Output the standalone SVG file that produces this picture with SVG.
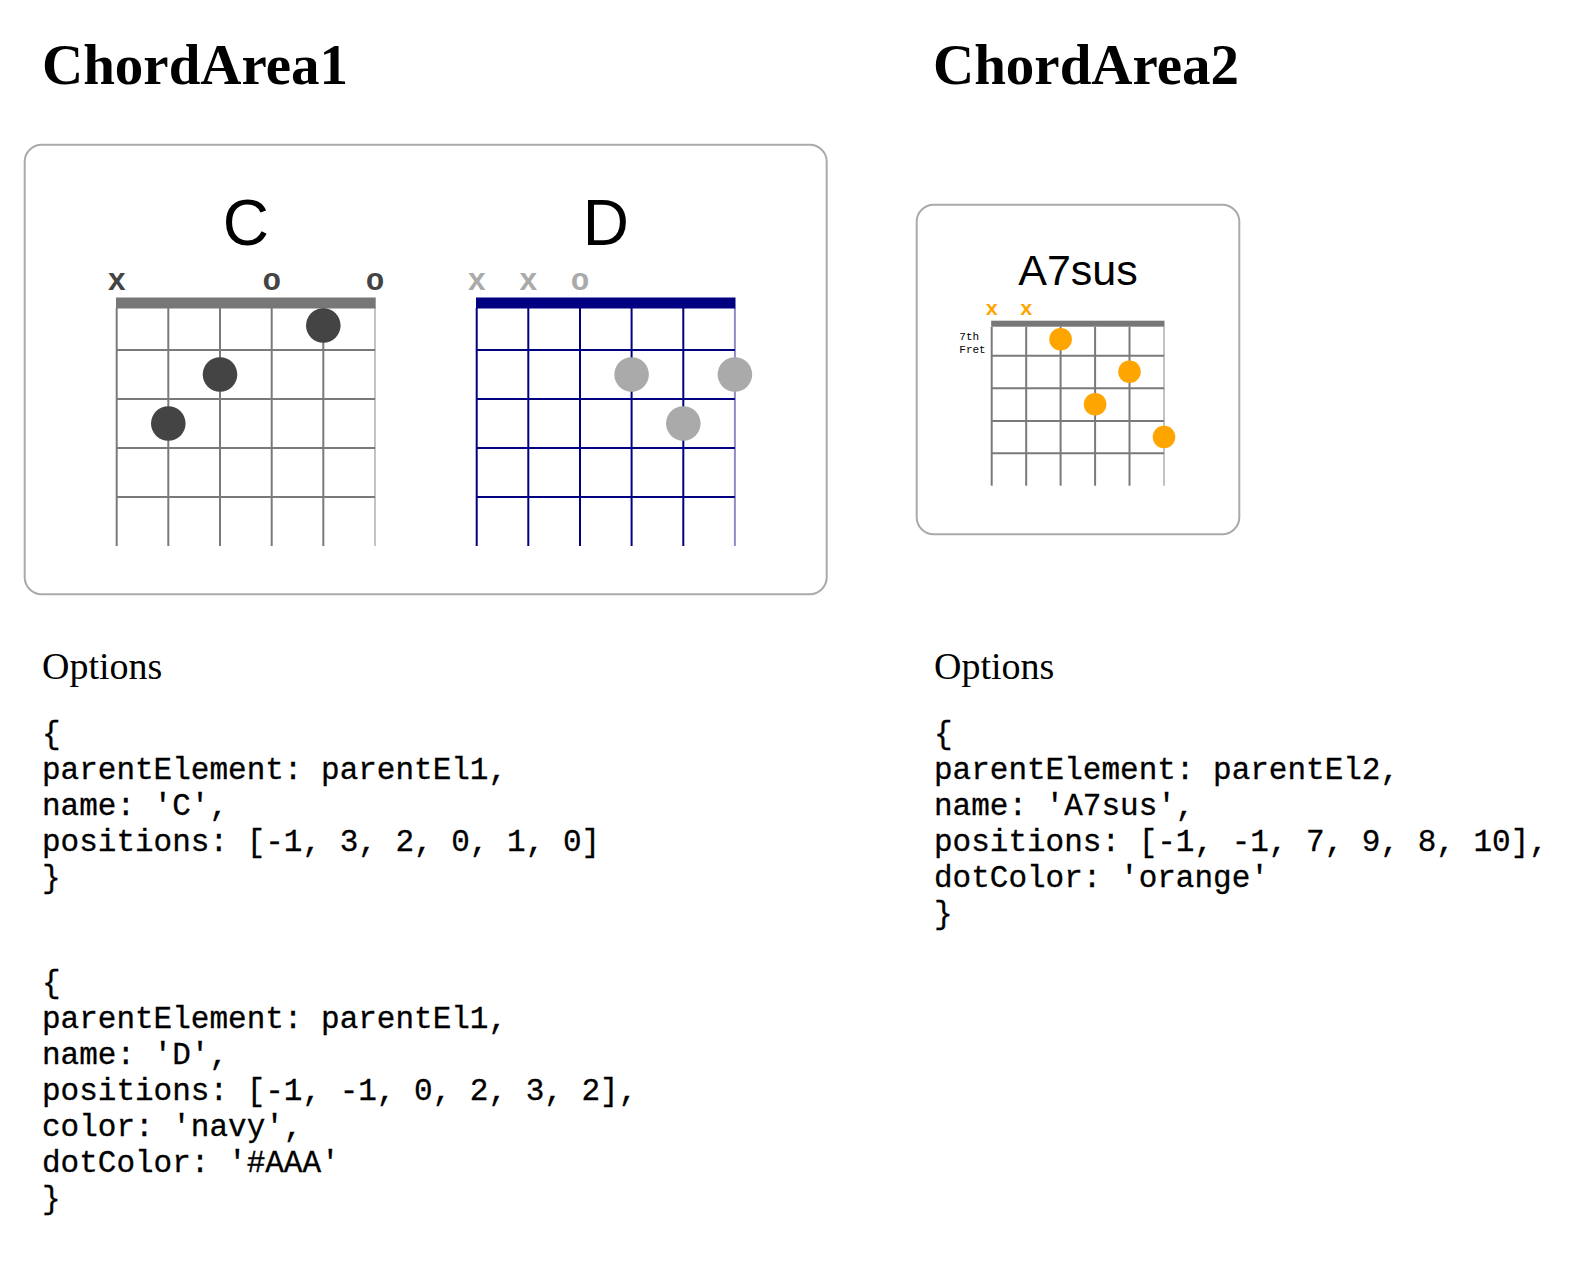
<svg xmlns="http://www.w3.org/2000/svg" width="1596" height="1266" viewBox="0 0 1596 1266">
<style>
.h1{font-family:"Liberation Serif",serif;font-weight:bold;font-size:57px;fill:#000}
.opt{font-family:"Liberation Serif",serif;font-size:38px;fill:#000}
.code{font-family:"Liberation Mono",monospace;font-size:31px;fill:#000;stroke:#000;stroke-width:0.3}
.panel{fill:#fff;stroke:#aaa;stroke-width:2}
.title{font-family:"Liberation Sans",Arial,sans-serif;fill:#000;text-anchor:middle}
.mark{font-family:"Liberation Mono",monospace;font-weight:bold;text-anchor:middle}
.gc line{stroke:#7a7a7a;stroke-width:2}
.gd line{stroke:#000080;stroke-width:2}
.ga line{stroke:#7a7a7a;stroke-width:2}
.last{stroke-opacity:0.45}
</style>
<rect width="1596" height="1266" fill="#fff"/>
<g id="heading1"><text class="h1" x="42" y="84">ChordArea1</text></g>
<g id="heading2"><text class="h1" x="933" y="84">ChordArea2</text></g>

<g id="panel1"><rect class="panel" x="24.7" y="144.7" width="802" height="449.6" rx="17"/></g>
<g id="panel2"><rect class="panel" x="916.7" y="204.7" width="322.6" height="329.6" rx="17"/></g>

<g id="chordC">
<text class="title" x="245.8" y="245" font-size="64">C</text>
<g class="mark" fill="#444" font-size="31">
<text x="116.7" y="290">x</text><text x="271.7" y="290">o</text><text x="375" y="290">o</text>
</g>
<rect x="116" y="297.5" width="259.7" height="11" fill="#777"/>
<g class="gc">
<line x1="116.7" y1="350" x2="375" y2="350"/><line x1="116.7" y1="399" x2="375" y2="399"/><line x1="116.7" y1="448" x2="375" y2="448"/><line x1="116.7" y1="497" x2="375" y2="497"/>
<line x1="116.7" y1="308" x2="116.7" y2="546"/><line x1="168.3" y1="308" x2="168.3" y2="546"/><line x1="220" y1="308" x2="220" y2="546"/><line x1="271.7" y1="308" x2="271.7" y2="546"/><line x1="323.3" y1="308" x2="323.3" y2="546"/><line class="last" x1="375" y1="308" x2="375" y2="546"/>
</g>
<g fill="#444"><circle cx="323.3" cy="325.5" r="17.3"/><circle cx="220" cy="374.5" r="17.3"/><circle cx="168.3" cy="423.5" r="17.3"/></g>
</g>

<g id="chordD">
<text class="title" x="605.8" y="245" font-size="64">D</text>
<g class="mark" fill="#aaa" font-size="31">
<text x="476.7" y="290">x</text><text x="528.3" y="290">x</text><text x="580" y="290">o</text>
</g>
<rect x="476" y="297.5" width="259.5" height="11" fill="#000080"/>
<g class="gd">
<line x1="476.7" y1="350" x2="734.9" y2="350"/><line x1="476.7" y1="399" x2="734.9" y2="399"/><line x1="476.7" y1="448" x2="734.9" y2="448"/><line x1="476.7" y1="497" x2="734.9" y2="497"/>
<line x1="476.7" y1="308" x2="476.7" y2="546"/><line x1="528.3" y1="308" x2="528.3" y2="546"/><line x1="580" y1="308" x2="580" y2="546"/><line x1="631.6" y1="308" x2="631.6" y2="546"/><line x1="683.3" y1="308" x2="683.3" y2="546"/><line class="last" x1="734.9" y1="308" x2="734.9" y2="546"/>
</g>
<g fill="#aaa"><circle cx="631.6" cy="374.5" r="17.3"/><circle cx="734.9" cy="374.5" r="17.3"/><circle cx="683.3" cy="423.5" r="17.3"/></g>
</g>

<g id="chordA7sus">
<text class="title" x="1078" y="285" font-size="43">A7sus</text>
<g class="mark" fill="#ffa500" font-size="21">
<text x="991.7" y="315">x</text><text x="1026.2" y="315">x</text>
</g>
<g font-family="Liberation Mono, monospace" font-size="11" fill="#000">
<text x="959.3" y="340">7th</text><text x="959.3" y="352.5">Fret</text>
</g>
<rect x="991.2" y="320.7" width="173.3" height="6" fill="#777"/>
<g class="ga">
<line x1="991.7" y1="355.7" x2="1164" y2="355.7"/><line x1="991.7" y1="388.3" x2="1164" y2="388.3"/><line x1="991.7" y1="421" x2="1164" y2="421"/><line x1="991.7" y1="453.3" x2="1164" y2="453.3"/>
<line x1="991.7" y1="326.7" x2="991.7" y2="485.7"/><line x1="1026.2" y1="326.7" x2="1026.2" y2="485.7"/><line x1="1060.6" y1="326.7" x2="1060.6" y2="485.7"/><line x1="1095.1" y1="326.7" x2="1095.1" y2="485.7"/><line x1="1129.5" y1="326.7" x2="1129.5" y2="485.7"/><line class="last" x1="1164" y1="326.7" x2="1164" y2="485.7"/>
</g>
<g fill="#ffa500"><circle cx="1060.6" cy="339.3" r="11.3"/><circle cx="1129.5" cy="371.7" r="11.3"/><circle cx="1095.1" cy="404.3" r="11.3"/><circle cx="1164" cy="437" r="11.3"/></g>
</g>

<g id="options1">
<text class="opt" x="42" y="679">Options</text>
<g class="code" xml:space="preserve">
<text x="42" y="743">{</text>
<text x="42" y="779">parentElement: parentEl1,</text>
<text x="42" y="815">name: 'C',</text>
<text x="42" y="851">positions: [-1, 3, 2, 0, 1, 0]</text>
<text x="42" y="887">}</text>
<text x="42" y="992">{</text>
<text x="42" y="1028">parentElement: parentEl1,</text>
<text x="42" y="1064">name: 'D',</text>
<text x="42" y="1100">positions: [-1, -1, 0, 2, 3, 2],</text>
<text x="42" y="1136">color: 'navy',</text>
<text x="42" y="1172">dotColor: '#AAA'</text>
<text x="42" y="1208">}</text>
</g>
</g>

<g id="options2">
<text class="opt" x="934" y="679">Options</text>
<g class="code" xml:space="preserve">
<text x="934" y="743">{</text>
<text x="934" y="779">parentElement: parentEl2,</text>
<text x="934" y="815">name: 'A7sus',</text>
<text x="934" y="851">positions: [-1, -1, 7, 9, 8, 10],</text>
<text x="934" y="887">dotColor: 'orange'</text>
<text x="934" y="923">}</text>
</g>
</g>
</svg>
